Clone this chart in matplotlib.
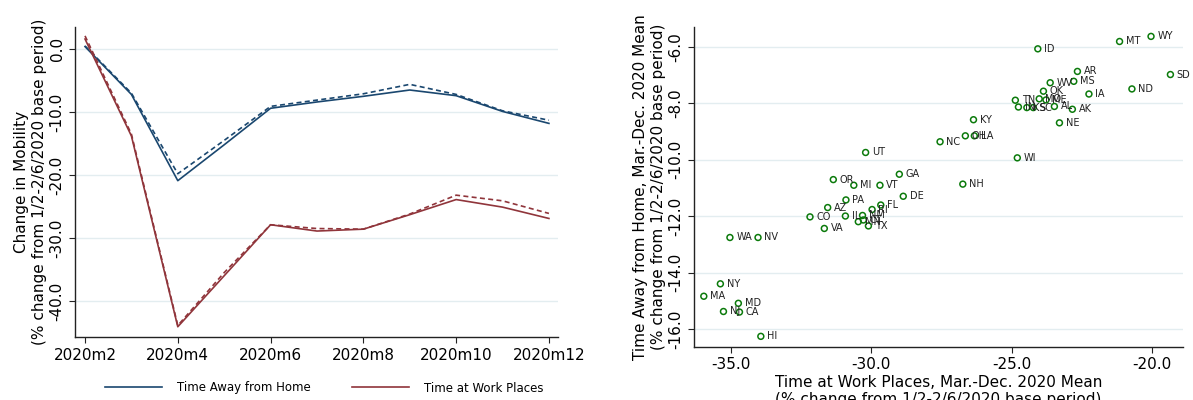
import matplotlib
matplotlib.use("Agg")
import matplotlib.pyplot as plt
from matplotlib.lines import Line2D
from matplotlib.ticker import FormatStrFormatter

# left panel: monthly change in mobility (2020m2 .. 2020m12)
months = [2, 3, 4, 5, 6, 7, 8, 9, 10, 11, 12]
month_labels = ["2020m2", "2020m4", "2020m6", "2020m8", "2020m10", "2020m12"]
away_home = [0.4, -7.2, -20.9, -15.2, -9.4, -8.4, -7.5, -6.5, -7.4, -9.9, -11.8]
away_home_alt = [0.5, -7.0, -19.8, -14.5, -9.1, -8.1, -7.1, -5.6, -7.2, -9.8, -11.3]
work_places = [1.6, -13.8, -44.1, -36.0, -27.9, -28.9, -28.6, -26.3, -23.9, -25.1, -26.9]
work_places_alt = [2.1, -13.5, -43.9, -35.5, -27.9, -28.5, -28.6, -26.2, -23.2, -24.1, -26.1]

# right panel: state means, Mar.-Dec. 2020
states = ["ID", "MT", "WY", "AR", "SD", "MS", "WV", "ND", "OK", "IA",
          "TN", "MO", "ME", "IN", "KS", "SC", "AL", "AK", "NE", "KY",
          "OH", "LA", "NC", "UT", "WI", "OR", "MI", "VT", "GA", "NH",
          "DE", "PA", "AZ", "FL", "RI", "CO", "IL", "NM", "MN", "CT",
          "TX", "VA", "WA", "NV", "NY", "MA", "MD", "NJ", "CA", "HI"]
work_mean = [-24.07, -21.16, -20.04, -22.66, -19.35, -22.79, -23.63, -20.72, -23.87, -22.25,
             -24.87, -24.02, -23.78, -24.76, -24.46, -24.23, -23.48, -22.84, -23.30, -26.36,
             -26.65, -26.33, -27.55, -30.20, -24.80, -31.35, -30.62, -29.69, -29.00, -26.74,
             -28.86, -30.90, -31.55, -29.66, -29.97, -32.18, -30.92, -30.31, -30.46, -30.28,
             -30.10, -31.67, -35.03, -34.03, -35.37, -35.96, -34.73, -35.26, -34.69, -33.93]
home_mean = [-6.07, -5.81, -5.63, -6.87, -6.98, -7.22, -7.27, -7.49, -7.57, -7.67,
             -7.89, -7.84, -7.88, -8.13, -8.15, -8.15, -8.11, -8.21, -8.69, -8.58,
             -9.15, -9.15, -9.36, -9.74, -9.93, -10.70, -10.90, -10.90, -10.51, -10.86,
             -11.29, -11.42, -11.69, -11.60, -11.76, -12.02, -11.99, -11.97, -12.19, -12.13,
             -12.34, -12.43, -12.75, -12.75, -14.39, -14.83, -15.08, -15.37, -15.39, -16.25]

BLUE = "#1a476f"
RED = "#90353b"
GREEN = "#0b7a0b"
GRID = "#e3edf0"

plt.rcParams["font.family"] = "DejaVu Sans"
fig = plt.figure(figsize=(11.93, 4.0), dpi=100)

def style_axes(ax):
    for side in ("top", "right"):
        ax.spines[side].set_visible(False)
    for side in ("left", "bottom"):
        ax.spines[side].set_color("#222222")
        ax.spines[side].set_linewidth(1.0)
    ax.yaxis.grid(True, color=GRID, linewidth=1.0)
    ax.set_axisbelow(True)
    ax.tick_params(axis="both", direction="out", length=4, width=0.8,
                   color="#222222", labelsize=11)
    for lab in ax.get_yticklabels():
        lab.set_rotation(90)
        lab.set_va("center")
    ax.yaxis.set_major_formatter(FormatStrFormatter("%.1f"))

# ---- left panel
ax1 = fig.add_axes([0.0629, 0.157, 0.405, 0.776])
ax1.plot(months, away_home, color=BLUE, lw=1.2)
ax1.plot(months, away_home_alt, color=BLUE, lw=1.2, ls=(0, (3, 2)))
ax1.plot(months, work_places, color=RED, lw=1.2)
ax1.plot(months, work_places_alt, color=RED, lw=1.2, ls=(0, (3, 2)))
ax1.set_xlim(1.785, 12.2)
ax1.set_ylim(-45.76, 3.54)
ax1.set_xticks(months[::2])
ax1.set_xticklabels(month_labels)
ax1.set_yticks([0, -10, -20, -30, -40])
style_axes(ax1)
ax1.set_ylabel("Change in Mobility\n(% change from 1/2-2/6/2020 base period)",
               fontsize=11, labelpad=2)

handles = [Line2D([], [], color=BLUE, lw=1.2), Line2D([], [], color=RED, lw=1.2)]
fig.legend(handles, ["Time Away from Home", "Time at Work Places"],
           loc="center", bbox_to_anchor=(0.272, 0.03), ncol=2, frameon=False,
           fontsize=8.5, handlelength=4.8, handletextpad=1.3, columnspacing=3.5)

# ---- right panel
ax2 = fig.add_axes([0.5817, 0.133, 0.4102, 0.80])
ax2.scatter(work_mean, home_mean, s=18, facecolors="none", edgecolors=GREEN,
            linewidths=1.1, zorder=3)
for st, xv, yv in zip(states, work_mean, home_mean):
    ax2.annotate(st, (xv, yv), xytext=(4.5, 0), textcoords="offset points",
                 va="center", ha="left", fontsize=7, color="#222222")
ax2.set_xlim(-36.31, -18.89)
ax2.set_ylim(-16.62, -5.29)
ax2.set_xticks([-35, -30, -25, -20])
ax2.set_yticks([-6, -8, -10, -12, -14, -16])
style_axes(ax2)
ax2.xaxis.set_major_formatter(FormatStrFormatter("%.1f"))
ax2.set_xlabel("Time at Work Places, Mar.-Dec. 2020 Mean\n(% change from 1/2-2/6/2020 base period)",
               fontsize=11, labelpad=2)
ax2.set_ylabel("Time Away from Home, Mar.-Dec. 2020 Mean\n(% change from 1/2-2/6/2020 base period)",
               fontsize=11, labelpad=2)

fig.savefig("out.png", dpi=100)
